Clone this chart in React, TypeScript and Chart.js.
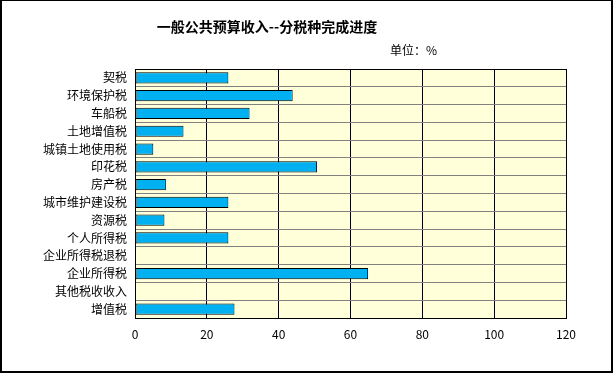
import React, { useEffect, useRef } from "react";
import { Chart, registerables } from "chart.js";

Chart.register(...registerables);

const TITLE = "一般公共预算收入--分税种完成进度";
const UNIT = "单位：%";

const categories = [
  "契税",
  "环境保护税",
  "车船税",
  "土地增值税",
  "城镇土地使用税",
  "印花税",
  "房产税",
  "城市维护建设税",
  "资源税",
  "个人所得税",
  "企业所得税退税",
  "企业所得税",
  "其他税收收入",
  "增值税",
];

const progress = [26.0, 43.9, 31.9, 13.5, 5.1, 50.7, 8.6, 26.0, 8.2, 26.0, 0, 64.9, 0, 27.7];

const xMin = 0;
const xMax = 120;
const xStep = 20;

const FONT = '"Noto Sans CJK SC", "Noto Sans", sans-serif';

const framePlugin = {
  id: "framePlugin",
  beforeDraw(chart: any) {
    const { ctx, chartArea, width, height } = chart;
    ctx.save();
    ctx.fillStyle = "#ffffff";
    ctx.fillRect(0, 0, width, height);
    ctx.fillStyle = "#FFFFD9";
    ctx.fillRect(chartArea.left, chartArea.top, chartArea.right - chartArea.left, chartArea.bottom - chartArea.top);
    ctx.restore();
  },
  afterDraw(chart: any) {
    const { ctx, chartArea, width, height } = chart;
    ctx.save();
    ctx.strokeStyle = "#000000";
    ctx.lineWidth = 1;
    ctx.strokeRect(
      Math.round(chartArea.left) + 0.5,
      Math.round(chartArea.top) + 0.5,
      Math.round(chartArea.right - chartArea.left),
      Math.round(chartArea.bottom - chartArea.top)
    );
    ctx.fillStyle = "#000000";
    ctx.fillRect(0, 0, 2, height - 1);
    ctx.fillRect(0, 0, width - 1, 1);
    ctx.fillRect(width - 3, 0, 2, height - 1);
    ctx.fillRect(0, height - 3, width - 1, 2);
    ctx.restore();
  },
};

export default function App() {
  const canvasRef = useRef<HTMLCanvasElement | null>(null);

  useEffect(() => {
    if (!canvasRef.current) return;
    Chart.defaults.font.family = FONT;
    Chart.defaults.font.size = 12;
    Chart.defaults.color = "#000000";
    const chart = new Chart(canvasRef.current, {
      type: "bar",
      data: {
        labels: categories,
        datasets: [
          {
            data: progress,
            backgroundColor: "#00B0F0",
            borderColor: "#000000",
            borderWidth: 1,
            borderSkipped: false,
            barPercentage: 0.63,
            categoryPercentage: 1,
          },
        ],
      },
      options: {
        indexAxis: "y",
        animation: false,
        responsive: false,
        devicePixelRatio: 1,
        layout: { padding: { top: 69, right: 48, bottom: 26, left: 0 } },
        plugins: {
          legend: { display: false },
          title: { display: false },
          tooltip: { enabled: false },
        },
        scales: {
          x: {
            type: "linear",
            min: xMin,
            max: xMax,
            ticks: { stepSize: xStep, padding: 9, font: { size: 12, family: FONT }, color: "#000" },
            grid: { color: "#000000", lineWidth: 1, drawTicks: false },
            border: { display: false },
            afterFit: (s: any) => {
              s.height = 30;
            },
          },
          y: {
            type: "category",
            ticks: { padding: 8, font: { size: 12, family: FONT }, color: "#000", autoSkip: false },
            grid: { color: "#808080", lineWidth: 1, drawTicks: false, offset: true },
            border: { display: false },
            afterFit: (s: any) => {
              s.width = 135;
            },
          },
        },
      },
      plugins: [framePlugin],
    } as any);
    return () => chart.destroy();
  }, []);

  return (
    <div style={{ position: "absolute", left: 0, top: 0, width: 614, height: 374, background: "#fff" }}>
      <canvas ref={canvasRef} width={614} height={374} style={{ display: "block" }} />
      <div
        style={{
          position: "absolute",
          left: 0,
          width: 534,
          top: 17,
          textAlign: "center",
          fontFamily: FONT,
          fontWeight: "bold",
          fontSize: 14,
          lineHeight: "18px",
          color: "#000",
        }}
      >
        {TITLE}
      </div>
      <div
        style={{
          position: "absolute",
          left: 390,
          top: 43,
          fontFamily: FONT,
          fontSize: 12,
          lineHeight: "14px",
          color: "#000",
        }}
      >
        {UNIT}
      </div>
    </div>
  );
}
